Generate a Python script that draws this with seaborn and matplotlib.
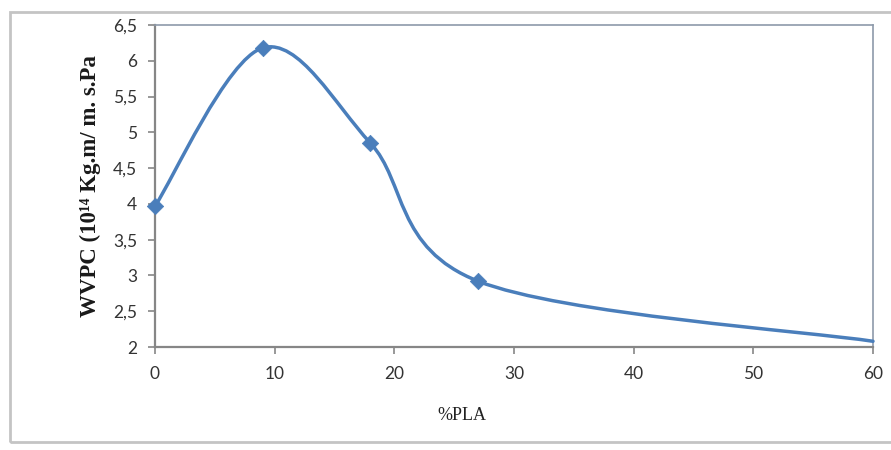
import numpy as np
import pandas as pd
import matplotlib
matplotlib.use("Agg")
import matplotlib.pyplot as plt
import seaborn as sns
from matplotlib.path import Path
from matplotlib.patches import PathPatch, Rectangle

# values
pla = [0, 9, 18, 27, 60]
wvpc = [3.97, 6.18, 4.85, 2.92, 2.08]
marked = 4  # the last point has no marker
y_ticks = [2, 2.5, 3, 3.5, 4, 4.5, 5, 5.5, 6, 6.5]
x_ticks = [0, 10, 20, 30, 40, 50, 60]

line_color = "#4a7ebb"

sns.set_style("ticks")
plt.rcParams["font.family"] = ["Lato", "DejaVu Sans"]


def smooth_path(xs, ys):
    # Excel-like "smoothed line": Catmull-Rom turned into cubic Bezier pieces
    pts = np.column_stack([xs, ys]).astype(float)
    ext = np.vstack([pts[0], pts, pts[-1]])
    verts = [tuple(pts[0])]
    codes = [Path.MOVETO]
    for i in range(1, len(ext) - 2):
        p0, p1, p2, p3 = ext[i - 1], ext[i], ext[i + 1], ext[i + 2]
        c1 = p1 + (p2 - p0) / 6.0
        c2 = p2 - (p3 - p1) / 6.0
        verts += [tuple(c1), tuple(c2), tuple(p2)]
        codes += [Path.CURVE4] * 3
    return Path(verts, codes)


fig = plt.figure(figsize=(8.91, 4.5), dpi=100)
ax = fig.add_axes([155 / 891, 1 - 347 / 450, 718 / 891, 322 / 450])

# outer chart-area frame
fig.patches.append(Rectangle((10 / 891, 1 - 442 / 450), 890 / 891, 430 / 450,
                             transform=fig.transFigure, fill=False,
                             edgecolor="#c4c4c4", lw=2))

ax.add_patch(PathPatch(smooth_path(pla, wvpc), fill=False,
                       edgecolor=line_color, lw=2.5, capstyle="round",
                       zorder=3, clip_on=False))

df = pd.DataFrame({"pla": pla[:marked], "wvpc": wvpc[:marked]})
sns.scatterplot(data=df, x="pla", y="wvpc", ax=ax, marker="D", s=70,
                color=line_color, edgecolor=line_color, linewidth=0.5,
                zorder=4, clip_on=False)

ax.set_xlim(0, 60)
ax.set_ylim(2, 6.5)
ax.set_xticks(x_ticks)
ax.set_yticks(y_ticks)
ax.set_xticklabels([str(t) for t in x_ticks])
ax.set_yticklabels([f"{t:g}".replace(".", ",") for t in y_ticks])
ax.tick_params(axis="both", labelsize=12.5, colors="#868686",
               length=5, width=1.2, direction="out")
ax.tick_params(axis="y", pad=8)
ax.tick_params(axis="x", pad=9)
for lab in ax.get_xticklabels() + ax.get_yticklabels():
    lab.set_color("#333333")

for side in ["left", "bottom"]:
    ax.spines[side].set_color("#868686")
    ax.spines[side].set_linewidth(1.6)
for side in ["top", "right"]:
    ax.spines[side].set_color("#8d9aaa")
    ax.spines[side].set_linewidth(1.2)

ax.set_xlabel("%PLA", family=["Liberation Serif", "DejaVu Serif"],
              fontsize=13, color="#222222")
ax.xaxis.set_label_coords(0.428, -0.214)
ax.xaxis.label.set_va("center")
ax.set_ylabel("WVPC (10\u00b9\u2074 Kg.m/ m. s.Pa",
              family=["Liberation Serif", "DejaVu Serif"],
              fontsize=16.5, fontweight="bold", color="#1a1a1a")
ax.yaxis.set_label_coords(-0.0905, 0.5)
ax.yaxis.label.set_va("center")

fig.savefig("out.png", dpi=100)
